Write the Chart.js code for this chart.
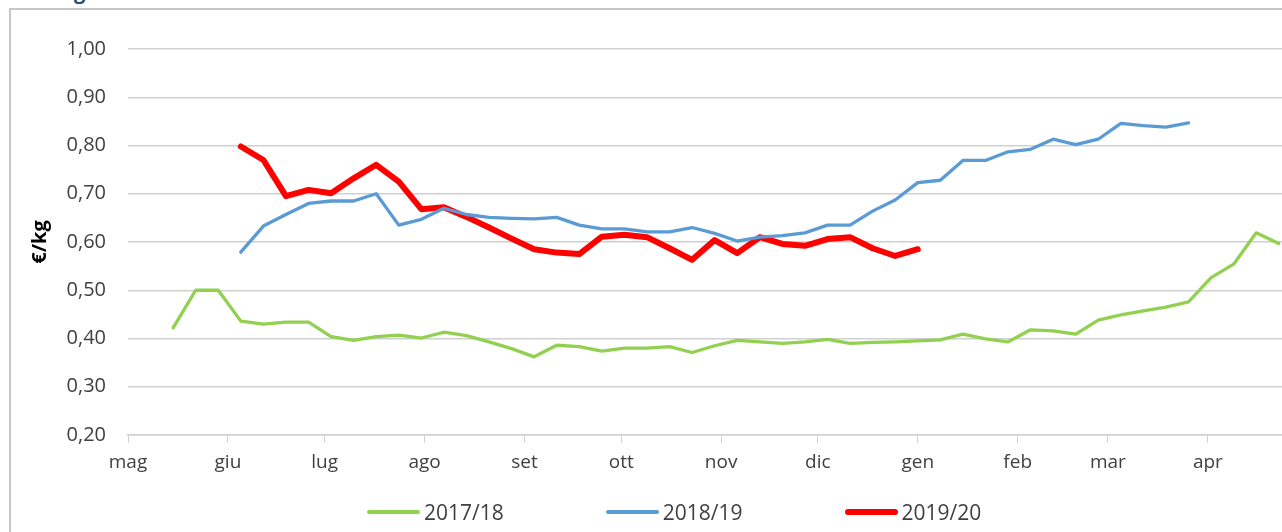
<!DOCTYPE html>
<html>
<head>
<meta charset="utf-8">
<script src="https://cdn.jsdelivr.net/npm/chart.js@4"></script>
<style>
  body { margin: 0; background: #fff; overflow: hidden; }
  #wrap { position: relative; width: 1282px; height: 532px; overflow: hidden; font-family: "Open Sans", sans-serif; }
  #frame { position: absolute; left: 9px; top: 8px; width: 1400px; height: 600px; border-left: 2.5px solid #c6c6c6; border-top: 2.5px solid #c6c6c6; }
  #topTitle { position: absolute; left: 42px; top: -22px; color: #1f4e79; font-weight: bold; font-size: 20px; }
  #chart { position: absolute; left: 0; top: 0; }
  #legend { position: absolute; left: 367px; top: 497px; display: flex; align-items: center; }
  .item { display: flex; align-items: center; margin-right: 102px; }
  .swatch { width: 53px; border-radius: 3px; margin-right: 4px; }
  .item span { font-size: 21px; color: #404040; line-height: 30px; }
</style>
</head>
<body>
<div id="wrap">
  <div id="frame"></div>
  <div id="topTitle">€/kg</div>
  <canvas id="chart" width="1282" height="532"></canvas>
  <div id="legend"></div>
</div>
<script>
// days from 1 May, one point per week
const weekDays = [14, 21, 28, 35, 42, 49, 56, 63, 70, 77, 84, 91, 98, 105, 112, 119, 126, 133, 140, 147,
  154, 161, 168, 175, 182, 189, 196, 203, 210, 217, 224, 231, 238, 245, 252, 259, 266, 273, 280, 287,
  294, 301, 308, 315, 322, 329, 336, 343, 350, 357];

const monthStarts = [0, 31, 61, 92, 123, 153, 184, 214, 245, 276, 304, 335];
const monthLabels = ['mag', 'giu', 'lug', 'ago', 'set', 'ott', 'nov', 'dic', 'gen', 'feb', 'mar', 'apr'];

const seriesNames = ['2017/18', '2018/19', '2019/20'];

const price1718 = [0.422, 0.500, 0.500, 0.436, 0.430, 0.434, 0.434, 0.404, 0.396, 0.404,
  0.407, 0.401, 0.413, 0.406, 0.393, 0.379, 0.362, 0.386, 0.383, 0.374,
  0.380, 0.380, 0.383, 0.371, 0.385, 0.396, 0.393, 0.390, 0.393, 0.398,
  0.390, 0.392, 0.393, 0.395, 0.397, 0.409, 0.399, 0.393, 0.418, 0.416,
  0.409, 0.438, 0.449, 0.457, 0.465, 0.476, 0.526, 0.554, 0.619, 0.597];

const price1819 = [null, null, null, 0.579, 0.633, 0.657, 0.680, 0.685, 0.685, 0.700,
  0.635, 0.647, 0.670, 0.657, 0.651, 0.649, 0.648, 0.651, 0.635, 0.627,
  0.627, 0.621, 0.621, 0.630, 0.618, 0.602, 0.610, 0.613, 0.619, 0.635,
  0.635, 0.664, 0.687, 0.723, 0.728, 0.769, 0.769, 0.787, 0.792, 0.813,
  0.802, 0.813, 0.846, 0.841, 0.838, 0.847];

const price1920 = [null, null, null, 0.798, 0.770, 0.695, 0.708, 0.701, 0.732, 0.760,
  0.725, 0.668, 0.672, 0.652, 0.630, 0.607, 0.585, 0.578, 0.575, 0.611,
  0.615, 0.610, 0.587, 0.563, 0.604, 0.577, 0.610, 0.596, 0.592, 0.606,
  0.610, 0.587, 0.571, 0.585];

const colors = ['#92d050', '#5b9bd5', '#ff0000'];
const widths = [3.3, 3.3, 6];

function toPoints(values) {
  return values.map((v, i) => ({ x: weekDays[i], y: v }));
}

const allSeries = [price1718, price1819, price1920];

const datasets = allSeries.map((values, i) => ({
  label: seriesNames[i],
  data: toPoints(values),
  borderColor: colors[i],
  backgroundColor: colors[i],
  borderWidth: widths[i],
  pointRadius: 0,
  tension: 0,
  borderJoinStyle: 'round',
  borderCapStyle: 'round',
  fill: false
}));

const gridGray = '#d0d0d0';
const textGray = '#404040';

new Chart(document.getElementById('chart'), {
  type: 'line',
  data: { datasets: datasets },
  options: {
    responsive: false,
    animation: false,
    devicePixelRatio: 1,
    layout: { padding: { top: 49, right: 0, bottom: 0, left: 0 } },
    plugins: {
      legend: { display: false },
      tooltip: { enabled: false }
    },
    scales: {
      x: {
        type: 'linear',
        min: 0,
        max: 358,
        afterFit: scale => { scale.height = 97; },
        afterBuildTicks: scale => { scale.ticks = monthStarts.map(v => ({ value: v })); },
        grid: { display: true, drawOnChartArea: false, drawTicks: true, tickLength: 8, color: gridGray },
        border: { display: true, color: gridGray, width: 1.5 },
        ticks: {
          autoSkip: false,
          maxRotation: 0,
          padding: 8,
          color: textGray,
          font: { family: 'Open Sans', size: 19 },
          callback: value => monthLabels[monthStarts.indexOf(value)]
        }
      },
      y: {
        min: 0.2,
        max: 1.0,
        afterFit: scale => { scale.width = 128; },
        grid: { color: gridGray, lineWidth: 1.5, drawTicks: false },
        border: { display: false },
        title: {
          display: true,
          text: '€/kg',
          color: '#000',
          font: { family: 'Open Sans', size: 20, weight: 'bold' },
          padding: { top: 28, bottom: 0 }
        },
        ticks: {
          stepSize: 0.1,
          padding: 22,
          color: textGray,
          font: { family: 'Open Sans', size: 20 },
          callback: value => value.toFixed(2).replace('.', ',')
        }
      }
    }
  }
});

// legend below the plot
const legendBox = document.getElementById('legend');
legendBox.innerHTML = seriesNames.map((name, i) => `
  <div class="item">
    <div class="swatch" style="height:${widths[i]}px;background:${colors[i]}"></div>
    <span>${name}</span>
  </div>
`).join('');
</script>
</body>
</html>
